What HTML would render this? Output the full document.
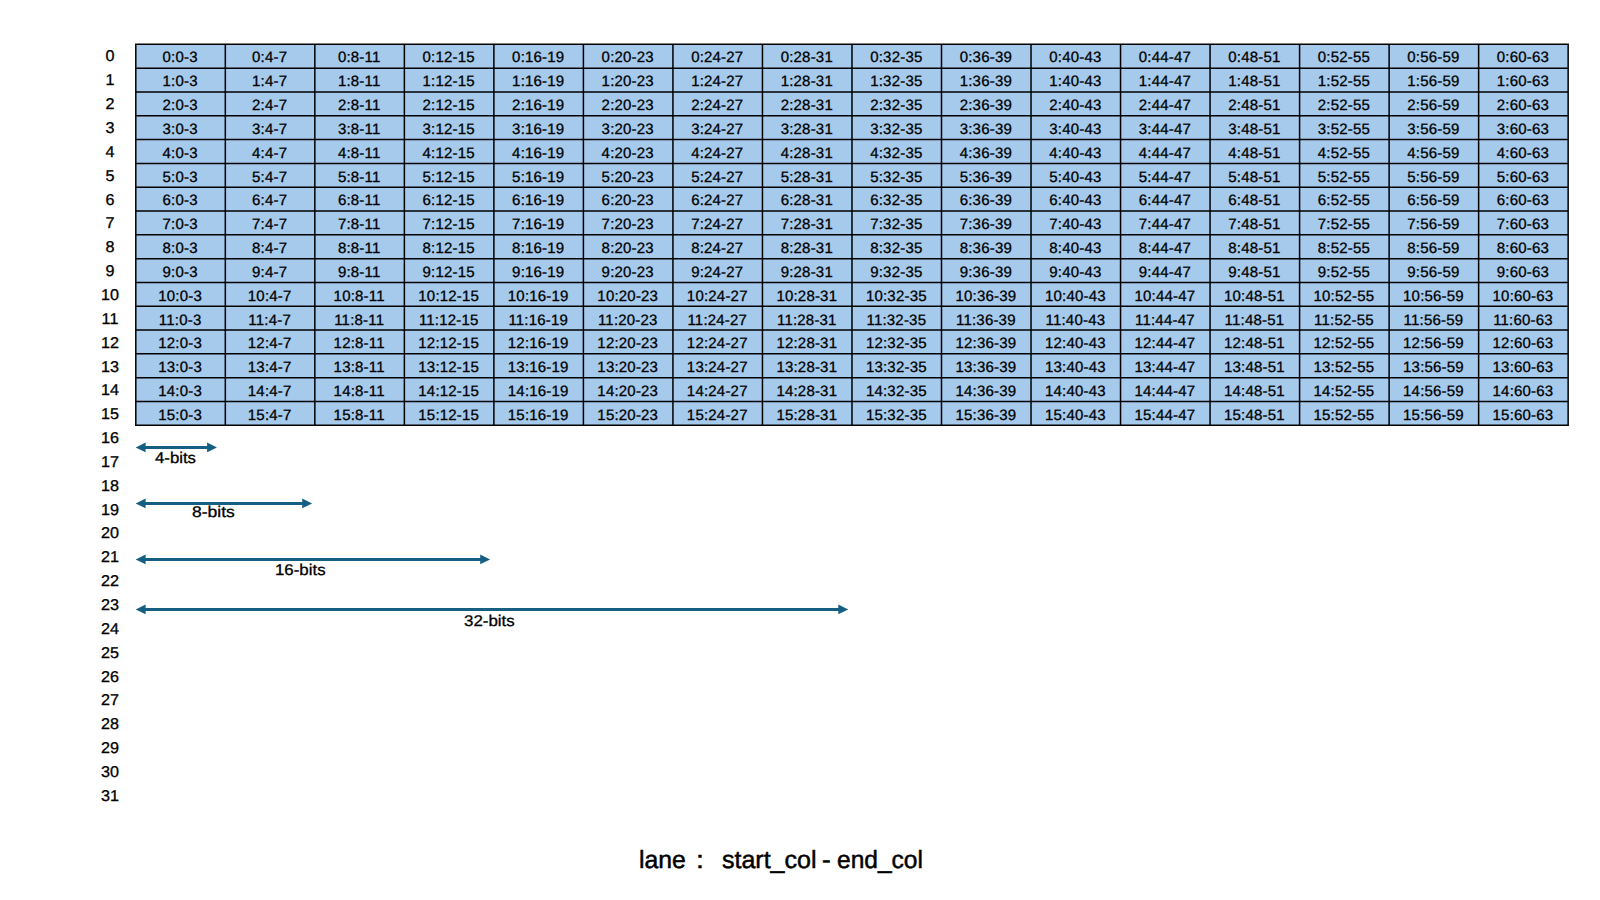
<!DOCTYPE html>
<html lang="en">
<head>
<meta charset="utf-8">
<title>lane : start_col - end_col</title>
<style>
html,body{margin:0;padding:0;background:#fff;}
body{width:1600px;height:900px;position:relative;overflow:hidden;font-family:"Liberation Sans",sans-serif;color:#000;text-rendering:geometricPrecision;}
#art{position:absolute;left:0;top:0;width:1600px;height:900px;}
.c,.r,.a,.b{position:absolute;white-space:nowrap;text-align:center;}
.c{font-size:15.0px;line-height:20px;height:20px;-webkit-text-stroke:0.3px #000;letter-spacing:0.2px;width:89.52px;}
.r{font-size:15.7px;line-height:20px;height:20px;-webkit-text-stroke:0.3px #000;width:40px;left:90.2px;transform:scaleX(1.03);}
.a{font-size:15.5px;line-height:20px;height:20px;-webkit-text-stroke:0.3px #000;transform-origin:0 50%;text-align:left;}
.b{font-size:24.8px;line-height:32px;height:32px;-webkit-text-stroke:0.5px #000;transform-origin:0 50%;text-align:left;}
</style>
</head>
<body>
<svg id="art" width="1600" height="900" viewBox="0 0 1600 900">
<rect x="135.80" y="44.35" width="1432.35" height="380.95" fill="#A6CAEC"/>
<path d="M135.05 44.35H1568.90M135.05 68.16H1568.90M135.05 91.97H1568.90M135.05 115.78H1568.90M135.05 139.59H1568.90M135.05 163.40H1568.90M135.05 187.21H1568.90M135.05 211.02H1568.90M135.05 234.82H1568.90M135.05 258.63H1568.90M135.05 282.44H1568.90M135.05 306.25H1568.90M135.05 330.06H1568.90M135.05 353.87H1568.90M135.05 377.68H1568.90M135.05 401.49H1568.90M135.05 425.30H1568.90M135.80 43.60V426.05M225.32 43.60V426.05M314.84 43.60V426.05M404.37 43.60V426.05M493.89 43.60V426.05M583.41 43.60V426.05M672.93 43.60V426.05M762.45 43.60V426.05M851.98 43.60V426.05M941.50 43.60V426.05M1031.02 43.60V426.05M1120.54 43.60V426.05M1210.06 43.60V426.05M1299.58 43.60V426.05M1389.11 43.60V426.05M1478.63 43.60V426.05M1568.15 43.60V426.05" fill="none" stroke="#000" stroke-width="1.5"/>
<path d="M144.60 447.45H208.10" stroke="#156082" stroke-width="3" fill="none"/>
<path d="M135.70 447.45L145.60 442.55V452.35Z M217.00 447.45L207.10 442.55V452.35Z" fill="#156082"/>
<path d="M144.60 503.40H303.20" stroke="#156082" stroke-width="3" fill="none"/>
<path d="M135.70 503.40L145.60 498.50V508.30Z M312.10 503.40L302.20 498.50V508.30Z" fill="#156082"/>
<path d="M144.60 559.40H481.20" stroke="#156082" stroke-width="3" fill="none"/>
<path d="M135.70 559.40L145.60 554.50V564.30Z M490.10 559.40L480.20 554.50V564.30Z" fill="#156082"/>
<path d="M144.60 609.40H839.30" stroke="#156082" stroke-width="3" fill="none"/>
<path d="M135.70 609.40L145.60 604.50V614.30Z M848.20 609.40L838.30 604.50V614.30Z" fill="#156082"/>
</svg>
<div class="r" style="top:47px">0</div><div class="r" style="top:71px">1</div><div class="r" style="top:95px">2</div><div class="r" style="top:119px">3</div><div class="r" style="top:143px">4</div><div class="r" style="top:167px">5</div><div class="r" style="top:191px">6</div><div class="r" style="top:214px">7</div><div class="r" style="top:238px">8</div><div class="r" style="top:262px">9</div><div class="r" style="top:286px">10</div><div class="r" style="top:310px">11</div><div class="r" style="top:334px">12</div><div class="r" style="top:358px">13</div><div class="r" style="top:381px">14</div><div class="r" style="top:405px">15</div><div class="r" style="top:429px">16</div><div class="r" style="top:453px">17</div><div class="r" style="top:477px">18</div><div class="r" style="top:501px">19</div><div class="r" style="top:524px">20</div><div class="r" style="top:548px">21</div><div class="r" style="top:572px">22</div><div class="r" style="top:596px">23</div><div class="r" style="top:620px">24</div><div class="r" style="top:644px">25</div><div class="r" style="top:668px">26</div><div class="r" style="top:691px">27</div><div class="r" style="top:715px">28</div><div class="r" style="top:739px">29</div><div class="r" style="top:763px">30</div><div class="r" style="top:787px">31</div>
<div class="c" style="left:135.40px;top:48px">0:0-3</div><div class="c" style="left:224.92px;top:48px">0:4-7</div><div class="c" style="left:314.44px;top:48px">0:8-11</div><div class="c" style="left:403.97px;top:48px">0:12-15</div><div class="c" style="left:493.49px;top:48px">0:16-19</div><div class="c" style="left:583.01px;top:48px">0:20-23</div><div class="c" style="left:672.53px;top:48px">0:24-27</div><div class="c" style="left:762.05px;top:48px">0:28-31</div><div class="c" style="left:851.58px;top:48px">0:32-35</div><div class="c" style="left:941.10px;top:48px">0:36-39</div><div class="c" style="left:1030.62px;top:48px">0:40-43</div><div class="c" style="left:1120.14px;top:48px">0:44-47</div><div class="c" style="left:1209.66px;top:48px">0:48-51</div><div class="c" style="left:1299.18px;top:48px">0:52-55</div><div class="c" style="left:1388.71px;top:48px">0:56-59</div><div class="c" style="left:1478.23px;top:48px">0:60-63</div>
<div class="c" style="left:135.40px;top:72px">1:0-3</div><div class="c" style="left:224.92px;top:72px">1:4-7</div><div class="c" style="left:314.44px;top:72px">1:8-11</div><div class="c" style="left:403.97px;top:72px">1:12-15</div><div class="c" style="left:493.49px;top:72px">1:16-19</div><div class="c" style="left:583.01px;top:72px">1:20-23</div><div class="c" style="left:672.53px;top:72px">1:24-27</div><div class="c" style="left:762.05px;top:72px">1:28-31</div><div class="c" style="left:851.58px;top:72px">1:32-35</div><div class="c" style="left:941.10px;top:72px">1:36-39</div><div class="c" style="left:1030.62px;top:72px">1:40-43</div><div class="c" style="left:1120.14px;top:72px">1:44-47</div><div class="c" style="left:1209.66px;top:72px">1:48-51</div><div class="c" style="left:1299.18px;top:72px">1:52-55</div><div class="c" style="left:1388.71px;top:72px">1:56-59</div><div class="c" style="left:1478.23px;top:72px">1:60-63</div>
<div class="c" style="left:135.40px;top:96px">2:0-3</div><div class="c" style="left:224.92px;top:96px">2:4-7</div><div class="c" style="left:314.44px;top:96px">2:8-11</div><div class="c" style="left:403.97px;top:96px">2:12-15</div><div class="c" style="left:493.49px;top:96px">2:16-19</div><div class="c" style="left:583.01px;top:96px">2:20-23</div><div class="c" style="left:672.53px;top:96px">2:24-27</div><div class="c" style="left:762.05px;top:96px">2:28-31</div><div class="c" style="left:851.58px;top:96px">2:32-35</div><div class="c" style="left:941.10px;top:96px">2:36-39</div><div class="c" style="left:1030.62px;top:96px">2:40-43</div><div class="c" style="left:1120.14px;top:96px">2:44-47</div><div class="c" style="left:1209.66px;top:96px">2:48-51</div><div class="c" style="left:1299.18px;top:96px">2:52-55</div><div class="c" style="left:1388.71px;top:96px">2:56-59</div><div class="c" style="left:1478.23px;top:96px">2:60-63</div>
<div class="c" style="left:135.40px;top:120px">3:0-3</div><div class="c" style="left:224.92px;top:120px">3:4-7</div><div class="c" style="left:314.44px;top:120px">3:8-11</div><div class="c" style="left:403.97px;top:120px">3:12-15</div><div class="c" style="left:493.49px;top:120px">3:16-19</div><div class="c" style="left:583.01px;top:120px">3:20-23</div><div class="c" style="left:672.53px;top:120px">3:24-27</div><div class="c" style="left:762.05px;top:120px">3:28-31</div><div class="c" style="left:851.58px;top:120px">3:32-35</div><div class="c" style="left:941.10px;top:120px">3:36-39</div><div class="c" style="left:1030.62px;top:120px">3:40-43</div><div class="c" style="left:1120.14px;top:120px">3:44-47</div><div class="c" style="left:1209.66px;top:120px">3:48-51</div><div class="c" style="left:1299.18px;top:120px">3:52-55</div><div class="c" style="left:1388.71px;top:120px">3:56-59</div><div class="c" style="left:1478.23px;top:120px">3:60-63</div>
<div class="c" style="left:135.40px;top:144px">4:0-3</div><div class="c" style="left:224.92px;top:144px">4:4-7</div><div class="c" style="left:314.44px;top:144px">4:8-11</div><div class="c" style="left:403.97px;top:144px">4:12-15</div><div class="c" style="left:493.49px;top:144px">4:16-19</div><div class="c" style="left:583.01px;top:144px">4:20-23</div><div class="c" style="left:672.53px;top:144px">4:24-27</div><div class="c" style="left:762.05px;top:144px">4:28-31</div><div class="c" style="left:851.58px;top:144px">4:32-35</div><div class="c" style="left:941.10px;top:144px">4:36-39</div><div class="c" style="left:1030.62px;top:144px">4:40-43</div><div class="c" style="left:1120.14px;top:144px">4:44-47</div><div class="c" style="left:1209.66px;top:144px">4:48-51</div><div class="c" style="left:1299.18px;top:144px">4:52-55</div><div class="c" style="left:1388.71px;top:144px">4:56-59</div><div class="c" style="left:1478.23px;top:144px">4:60-63</div>
<div class="c" style="left:135.40px;top:168px">5:0-3</div><div class="c" style="left:224.92px;top:168px">5:4-7</div><div class="c" style="left:314.44px;top:168px">5:8-11</div><div class="c" style="left:403.97px;top:168px">5:12-15</div><div class="c" style="left:493.49px;top:168px">5:16-19</div><div class="c" style="left:583.01px;top:168px">5:20-23</div><div class="c" style="left:672.53px;top:168px">5:24-27</div><div class="c" style="left:762.05px;top:168px">5:28-31</div><div class="c" style="left:851.58px;top:168px">5:32-35</div><div class="c" style="left:941.10px;top:168px">5:36-39</div><div class="c" style="left:1030.62px;top:168px">5:40-43</div><div class="c" style="left:1120.14px;top:168px">5:44-47</div><div class="c" style="left:1209.66px;top:168px">5:48-51</div><div class="c" style="left:1299.18px;top:168px">5:52-55</div><div class="c" style="left:1388.71px;top:168px">5:56-59</div><div class="c" style="left:1478.23px;top:168px">5:60-63</div>
<div class="c" style="left:135.40px;top:191px">6:0-3</div><div class="c" style="left:224.92px;top:191px">6:4-7</div><div class="c" style="left:314.44px;top:191px">6:8-11</div><div class="c" style="left:403.97px;top:191px">6:12-15</div><div class="c" style="left:493.49px;top:191px">6:16-19</div><div class="c" style="left:583.01px;top:191px">6:20-23</div><div class="c" style="left:672.53px;top:191px">6:24-27</div><div class="c" style="left:762.05px;top:191px">6:28-31</div><div class="c" style="left:851.58px;top:191px">6:32-35</div><div class="c" style="left:941.10px;top:191px">6:36-39</div><div class="c" style="left:1030.62px;top:191px">6:40-43</div><div class="c" style="left:1120.14px;top:191px">6:44-47</div><div class="c" style="left:1209.66px;top:191px">6:48-51</div><div class="c" style="left:1299.18px;top:191px">6:52-55</div><div class="c" style="left:1388.71px;top:191px">6:56-59</div><div class="c" style="left:1478.23px;top:191px">6:60-63</div>
<div class="c" style="left:135.40px;top:215px">7:0-3</div><div class="c" style="left:224.92px;top:215px">7:4-7</div><div class="c" style="left:314.44px;top:215px">7:8-11</div><div class="c" style="left:403.97px;top:215px">7:12-15</div><div class="c" style="left:493.49px;top:215px">7:16-19</div><div class="c" style="left:583.01px;top:215px">7:20-23</div><div class="c" style="left:672.53px;top:215px">7:24-27</div><div class="c" style="left:762.05px;top:215px">7:28-31</div><div class="c" style="left:851.58px;top:215px">7:32-35</div><div class="c" style="left:941.10px;top:215px">7:36-39</div><div class="c" style="left:1030.62px;top:215px">7:40-43</div><div class="c" style="left:1120.14px;top:215px">7:44-47</div><div class="c" style="left:1209.66px;top:215px">7:48-51</div><div class="c" style="left:1299.18px;top:215px">7:52-55</div><div class="c" style="left:1388.71px;top:215px">7:56-59</div><div class="c" style="left:1478.23px;top:215px">7:60-63</div>
<div class="c" style="left:135.40px;top:239px">8:0-3</div><div class="c" style="left:224.92px;top:239px">8:4-7</div><div class="c" style="left:314.44px;top:239px">8:8-11</div><div class="c" style="left:403.97px;top:239px">8:12-15</div><div class="c" style="left:493.49px;top:239px">8:16-19</div><div class="c" style="left:583.01px;top:239px">8:20-23</div><div class="c" style="left:672.53px;top:239px">8:24-27</div><div class="c" style="left:762.05px;top:239px">8:28-31</div><div class="c" style="left:851.58px;top:239px">8:32-35</div><div class="c" style="left:941.10px;top:239px">8:36-39</div><div class="c" style="left:1030.62px;top:239px">8:40-43</div><div class="c" style="left:1120.14px;top:239px">8:44-47</div><div class="c" style="left:1209.66px;top:239px">8:48-51</div><div class="c" style="left:1299.18px;top:239px">8:52-55</div><div class="c" style="left:1388.71px;top:239px">8:56-59</div><div class="c" style="left:1478.23px;top:239px">8:60-63</div>
<div class="c" style="left:135.40px;top:263px">9:0-3</div><div class="c" style="left:224.92px;top:263px">9:4-7</div><div class="c" style="left:314.44px;top:263px">9:8-11</div><div class="c" style="left:403.97px;top:263px">9:12-15</div><div class="c" style="left:493.49px;top:263px">9:16-19</div><div class="c" style="left:583.01px;top:263px">9:20-23</div><div class="c" style="left:672.53px;top:263px">9:24-27</div><div class="c" style="left:762.05px;top:263px">9:28-31</div><div class="c" style="left:851.58px;top:263px">9:32-35</div><div class="c" style="left:941.10px;top:263px">9:36-39</div><div class="c" style="left:1030.62px;top:263px">9:40-43</div><div class="c" style="left:1120.14px;top:263px">9:44-47</div><div class="c" style="left:1209.66px;top:263px">9:48-51</div><div class="c" style="left:1299.18px;top:263px">9:52-55</div><div class="c" style="left:1388.71px;top:263px">9:56-59</div><div class="c" style="left:1478.23px;top:263px">9:60-63</div>
<div class="c" style="left:135.40px;top:287px">10:0-3</div><div class="c" style="left:224.92px;top:287px">10:4-7</div><div class="c" style="left:314.44px;top:287px">10:8-11</div><div class="c" style="left:403.97px;top:287px">10:12-15</div><div class="c" style="left:493.49px;top:287px">10:16-19</div><div class="c" style="left:583.01px;top:287px">10:20-23</div><div class="c" style="left:672.53px;top:287px">10:24-27</div><div class="c" style="left:762.05px;top:287px">10:28-31</div><div class="c" style="left:851.58px;top:287px">10:32-35</div><div class="c" style="left:941.10px;top:287px">10:36-39</div><div class="c" style="left:1030.62px;top:287px">10:40-43</div><div class="c" style="left:1120.14px;top:287px">10:44-47</div><div class="c" style="left:1209.66px;top:287px">10:48-51</div><div class="c" style="left:1299.18px;top:287px">10:52-55</div><div class="c" style="left:1388.71px;top:287px">10:56-59</div><div class="c" style="left:1478.23px;top:287px">10:60-63</div>
<div class="c" style="left:135.40px;top:311px">11:0-3</div><div class="c" style="left:224.92px;top:311px">11:4-7</div><div class="c" style="left:314.44px;top:311px">11:8-11</div><div class="c" style="left:403.97px;top:311px">11:12-15</div><div class="c" style="left:493.49px;top:311px">11:16-19</div><div class="c" style="left:583.01px;top:311px">11:20-23</div><div class="c" style="left:672.53px;top:311px">11:24-27</div><div class="c" style="left:762.05px;top:311px">11:28-31</div><div class="c" style="left:851.58px;top:311px">11:32-35</div><div class="c" style="left:941.10px;top:311px">11:36-39</div><div class="c" style="left:1030.62px;top:311px">11:40-43</div><div class="c" style="left:1120.14px;top:311px">11:44-47</div><div class="c" style="left:1209.66px;top:311px">11:48-51</div><div class="c" style="left:1299.18px;top:311px">11:52-55</div><div class="c" style="left:1388.71px;top:311px">11:56-59</div><div class="c" style="left:1478.23px;top:311px">11:60-63</div>
<div class="c" style="left:135.40px;top:334px">12:0-3</div><div class="c" style="left:224.92px;top:334px">12:4-7</div><div class="c" style="left:314.44px;top:334px">12:8-11</div><div class="c" style="left:403.97px;top:334px">12:12-15</div><div class="c" style="left:493.49px;top:334px">12:16-19</div><div class="c" style="left:583.01px;top:334px">12:20-23</div><div class="c" style="left:672.53px;top:334px">12:24-27</div><div class="c" style="left:762.05px;top:334px">12:28-31</div><div class="c" style="left:851.58px;top:334px">12:32-35</div><div class="c" style="left:941.10px;top:334px">12:36-39</div><div class="c" style="left:1030.62px;top:334px">12:40-43</div><div class="c" style="left:1120.14px;top:334px">12:44-47</div><div class="c" style="left:1209.66px;top:334px">12:48-51</div><div class="c" style="left:1299.18px;top:334px">12:52-55</div><div class="c" style="left:1388.71px;top:334px">12:56-59</div><div class="c" style="left:1478.23px;top:334px">12:60-63</div>
<div class="c" style="left:135.40px;top:358px">13:0-3</div><div class="c" style="left:224.92px;top:358px">13:4-7</div><div class="c" style="left:314.44px;top:358px">13:8-11</div><div class="c" style="left:403.97px;top:358px">13:12-15</div><div class="c" style="left:493.49px;top:358px">13:16-19</div><div class="c" style="left:583.01px;top:358px">13:20-23</div><div class="c" style="left:672.53px;top:358px">13:24-27</div><div class="c" style="left:762.05px;top:358px">13:28-31</div><div class="c" style="left:851.58px;top:358px">13:32-35</div><div class="c" style="left:941.10px;top:358px">13:36-39</div><div class="c" style="left:1030.62px;top:358px">13:40-43</div><div class="c" style="left:1120.14px;top:358px">13:44-47</div><div class="c" style="left:1209.66px;top:358px">13:48-51</div><div class="c" style="left:1299.18px;top:358px">13:52-55</div><div class="c" style="left:1388.71px;top:358px">13:56-59</div><div class="c" style="left:1478.23px;top:358px">13:60-63</div>
<div class="c" style="left:135.40px;top:382px">14:0-3</div><div class="c" style="left:224.92px;top:382px">14:4-7</div><div class="c" style="left:314.44px;top:382px">14:8-11</div><div class="c" style="left:403.97px;top:382px">14:12-15</div><div class="c" style="left:493.49px;top:382px">14:16-19</div><div class="c" style="left:583.01px;top:382px">14:20-23</div><div class="c" style="left:672.53px;top:382px">14:24-27</div><div class="c" style="left:762.05px;top:382px">14:28-31</div><div class="c" style="left:851.58px;top:382px">14:32-35</div><div class="c" style="left:941.10px;top:382px">14:36-39</div><div class="c" style="left:1030.62px;top:382px">14:40-43</div><div class="c" style="left:1120.14px;top:382px">14:44-47</div><div class="c" style="left:1209.66px;top:382px">14:48-51</div><div class="c" style="left:1299.18px;top:382px">14:52-55</div><div class="c" style="left:1388.71px;top:382px">14:56-59</div><div class="c" style="left:1478.23px;top:382px">14:60-63</div>
<div class="c" style="left:135.40px;top:406px">15:0-3</div><div class="c" style="left:224.92px;top:406px">15:4-7</div><div class="c" style="left:314.44px;top:406px">15:8-11</div><div class="c" style="left:403.97px;top:406px">15:12-15</div><div class="c" style="left:493.49px;top:406px">15:16-19</div><div class="c" style="left:583.01px;top:406px">15:20-23</div><div class="c" style="left:672.53px;top:406px">15:24-27</div><div class="c" style="left:762.05px;top:406px">15:28-31</div><div class="c" style="left:851.58px;top:406px">15:32-35</div><div class="c" style="left:941.10px;top:406px">15:36-39</div><div class="c" style="left:1030.62px;top:406px">15:40-43</div><div class="c" style="left:1120.14px;top:406px">15:44-47</div><div class="c" style="left:1209.66px;top:406px">15:48-51</div><div class="c" style="left:1299.18px;top:406px">15:52-55</div><div class="c" style="left:1388.71px;top:406px">15:56-59</div><div class="c" style="left:1478.23px;top:406px">15:60-63</div>
<div class="a" style="left:155.24px;top:449px;transform:scaleX(1.0817)">4-bits</div>
<div class="a" style="left:191.60px;top:503px;transform:scaleX(1.1297)">8-bits</div>
<div class="a" style="left:274.75px;top:561px;transform:scaleX(1.0868)">16-bits</div>
<div class="a" style="left:464.17px;top:612px;transform:scaleX(1.0885)">32-bits</div>
<div class="b" style="left:638.56px;top:845px;transform:scaleX(0.9990)">lane</div>
<div class="b" style="left:696.31px;top:845px;transform:scaleX(1.1500)">:</div>
<div class="b" style="left:721.90px;top:845px;transform:scaleX(1.0076)">start_col</div>
<div class="b" style="left:822.10px;top:845px;transform:scaleX(1.0557)">-</div>
<div class="b" style="left:836.55px;top:845px;transform:scaleX(0.9889)">end_col</div>
</body>
</html>
